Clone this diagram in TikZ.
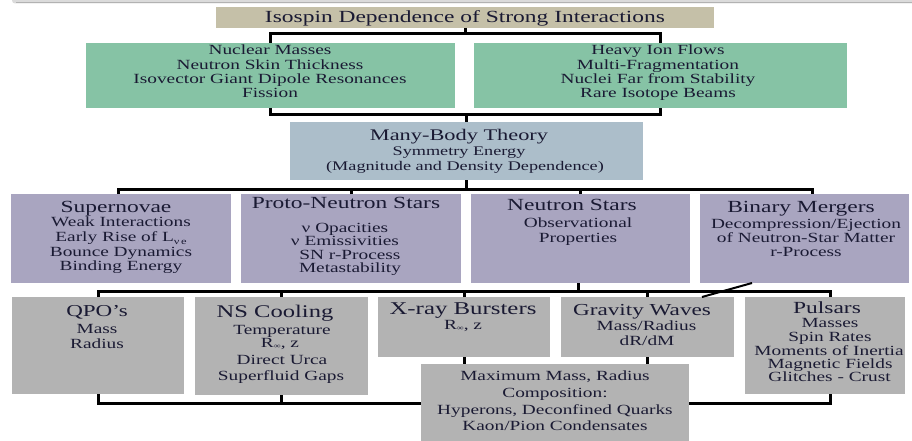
\documentclass[tikz,border=0pt]{standalone}
\usepackage{fontspec}
\setmainfont{Liberation Serif}[FakeStretch=1.38]
\usetikzlibrary{fit}
\definecolor{cTitle}{RGB}{197,192,168}
\definecolor{cGreen}{RGB}{134,195,165}
\definecolor{cBlue}{RGB}{172,190,202}
\definecolor{cPurple}{RGB}{169,165,192}
\definecolor{cGray}{RGB}{179,179,179}
\definecolor{cText}{RGB}{26,26,51}
\newcommand\fs[1]{\fontsize{#1}{#1}\selectfont}
\newcommand\tx[5]{\node[txt, font=\fs{#4}] (#1) at (#2,#3) {#5};}
\newcommand\nusub{\raisebox{-2.5pt}{\fs{9}ν\,e}}
\newcommand\rinf{R\raisebox{-1pt}{\fs{7}∞}}
\begin{document}
\begin{tikzpicture}[x=1pt,y=-1pt,
  boxx/.style={rectangle, inner sep=0pt, outer sep=0pt, draw=none},
  conn/.style={line width=3pt, black, line join=miter},
  txt/.style={anchor=base, inner sep=0pt, outer sep=0pt, text=cText}]
\useasboundingbox (0,0) rectangle (912,441);
% page shadow at top
\fill[black!14, rounded corners=3pt] (12,-10) rectangle (930,3.5);
\draw[black!30, line width=1pt] (16,3) -- (912,3);
% coordinates for bracket levels
\coordinate (y1) at (0,34);
\coordinate (y2) at (0,115);
\coordinate (y3) at (0,189);
\coordinate (y4) at (0,291);
\coordinate (y5) at (0,403);
% boxes
\node[boxx, fill=cTitle, fit={(216,7) (714,28)}] (title) {};
\node[boxx, fill=cGreen, fit={(86,43) (455,108)}] (gL) {};
\node[boxx, fill=cGreen, fit={(474,43) (847,108)}] (gR) {};
\node[boxx, fill=cBlue, fit={(290,122) (643,180)}] (mb) {};
\node[boxx, fill=cPurple, fit={(11,194) (231,283)}] (p1) {};
\node[boxx, fill=cPurple, fit={(241,194) (461,283)}] (p2) {};
\node[boxx, fill=cPurple, fit={(471,194) (690,283)}] (p3) {};
\node[boxx, fill=cPurple, fit={(700,194) (909,283)}] (p4) {};
\node[boxx, fill=cGray, fit={(12,297) (184,394)}] (q1) {};
\node[boxx, fill=cGray, fit={(195,297) (368,395)}] (q2) {};
\node[boxx, fill=cGray, fit={(378,297) (550,357)}] (q3) {};
\node[boxx, fill=cGray, fit={(561,297) (734,357)}] (q4) {};
\node[boxx, fill=cGray, fit={(745,297) (905,394)}] (q5) {};
\coordinate (p1n) at ([xshift=-3pt]p1.north);
\coordinate (p4n) at ([xshift=8pt]p4.north);
\coordinate (p3s) at ([xshift=-2pt]p3.south);
\coordinate (q5n) at ([xshift=5pt]q5.north);
\coordinate (q5s) at ([xshift=5pt]q5.south);
% bottom bracket (behind the maximum-mass box)
\draw[conn] (q1.south) -- (q1.south |- y5) -- (q5s |- y5) -- (q5s);
\draw[conn] (q2.south) -- (q2.south |- y5);
\node[boxx, fill=cGray, fit={(421,364) (689,441)}] (mm) {};
% connectors
\draw[conn] (title.south) -- (title.south |- y1);
\draw[conn] (gL.north) -- (gL.north |- y1) -- (gR.north |- y1) -- (gR.north);
\draw[conn] (gL.south) -- (gL.south |- y2) -- (gR.south |- y2) -- (gR.south);
\draw[conn] (mb.north) -- (mb.north |- y2);
\draw[conn] (mb.south) -- (mb.south |- y3);
\draw[conn] (p1n) -- (p1n |- y3) -- (p4n |- y3) -- (p4n);
\draw[conn] (p2.north) -- (p2.north |- y3);
\draw[conn] (p3.north) -- (p3.north |- y3);
\draw[conn] (p3s) -- (p3s |- y4);
\draw[conn] (q1.north) -- (q1.north |- y4) -- (q5n |- y4) -- (q5n);
\draw[conn] (q2.north) -- (q2.north |- y4);
\draw[conn] (q3.north) -- (q3.north |- y4);
\draw[conn] (q4.north) -- (q4.north |- y4);
\draw[line width=2pt, black] ([xshift=52pt]p4.south west) -- ([xshift=-32pt]q4.north east);
\draw[conn] (q3.south) -- (mm.north -| q3.south);
\draw[conn] (q4.south) -- (mm.north -| q4.south);
% texts
\tx{t0}{465}{23}{17}{Isospin Dependence of Strong Interactions}
\tx{g1}{270}{55}{14}{Nuclear Masses}
\tx{g2}{270}{69.5}{14}{Neutron Skin Thickness}
\tx{g3}{270}{84}{14}{Isovector Giant Dipole Resonances}
\tx{g4}{270}{98}{14}{Fission}
\tx{h1}{658}{55}{14}{Heavy Ion Flows}
\tx{h2}{658}{69.5}{14}{Multi-Fragmentation}
\tx{h3}{658}{84}{14}{Nuclei Far from Stability}
\tx{h4}{658}{98}{14}{Rare Isotope Beams}
\tx{m1}{459}{140}{16.2}{Many-Body Theory}
\tx{m2}{459}{155}{13.2}{Symmetry Energy}
\tx{m3}{465}{170}{13.2}{(Magnitude and Density Dependence)}
\tx{s1}{116}{212}{17}{Supernovae}
\tx{s2}{121}{226.5}{14}{Weak Interactions}
\tx{s3}{121}{241.5}{14}{Early Rise of L\nusub}
\tx{s4}{121}{256}{14}{Bounce Dynamics}
\tx{s5}{121}{270.5}{14}{Binding Energy}
\tx{r1}{346}{208}{17}{Proto-Neutron Stars}
\tx{r2}{345}{232}{14}{ν Opacities}
\tx{r3}{345}{245.5}{14}{ν Emissivities}
\tx{r4}{350}{259}{14}{SN r-Process}
\tx{r5}{350}{272.5}{14}{Metastability}
\tx{n1}{572}{210}{17}{Neutron Stars}
\tx{n2}{578}{227.5}{14}{Observational}
\tx{n3}{578}{242}{14}{Properties}
\tx{b1}{801}{212}{17}{Binary Mergers}
\tx{b2}{806}{228}{14}{Decompression/Ejection}
\tx{b3}{806}{242}{14}{of Neutron-Star Matter}
\tx{b4}{806}{256}{14}{r-Process}
\tx{k1}{97}{316}{16.7}{QPO's}
\tx{k2}{97}{333}{14}{Mass}
\tx{k3}{97}{348}{14}{Radius}
\tx{c1}{275}{317}{17.8}{NS Cooling}
\tx{c2}{282}{334}{14}{Temperature}
\tx{c3}{280}{347}{14}{\rinf, z}
\tx{c4}{282}{364}{14}{Direct Urca}
\tx{c5}{281}{380}{14}{Superfluid Gaps}
\tx{x1}{463}{314.5}{18}{X-ray Bursters}
\tx{x2}{463}{329}{14}{\rinf, z}
\tx{w1}{642}{315}{16.8}{Gravity Waves}
\tx{w2}{646.5}{330}{14}{Mass/Radius}
\tx{w3}{647}{345.5}{14}{dR/dM}
\tx{u1}{827}{313}{17}{Pulsars}
\tx{u2}{830}{327.5}{14}{Masses}
\tx{u3}{830}{341.5}{14}{Spin Rates}
\tx{u4}{829}{355}{14}{Moments of Inertia}
\tx{u5}{830}{368}{14}{Magnetic Fields}
\tx{u6}{829.5}{381.5}{14}{Glitches - Crust}
\tx{a1}{555}{380}{14}{Maximum Mass, Radius}
\tx{a2}{555}{397}{14}{Composition:}
\tx{a3}{555}{414}{14}{Hyperons, Deconfined Quarks}
\tx{a4}{555}{430}{14}{Kaon/Pion Condensates}
\end{tikzpicture}
\end{document}
